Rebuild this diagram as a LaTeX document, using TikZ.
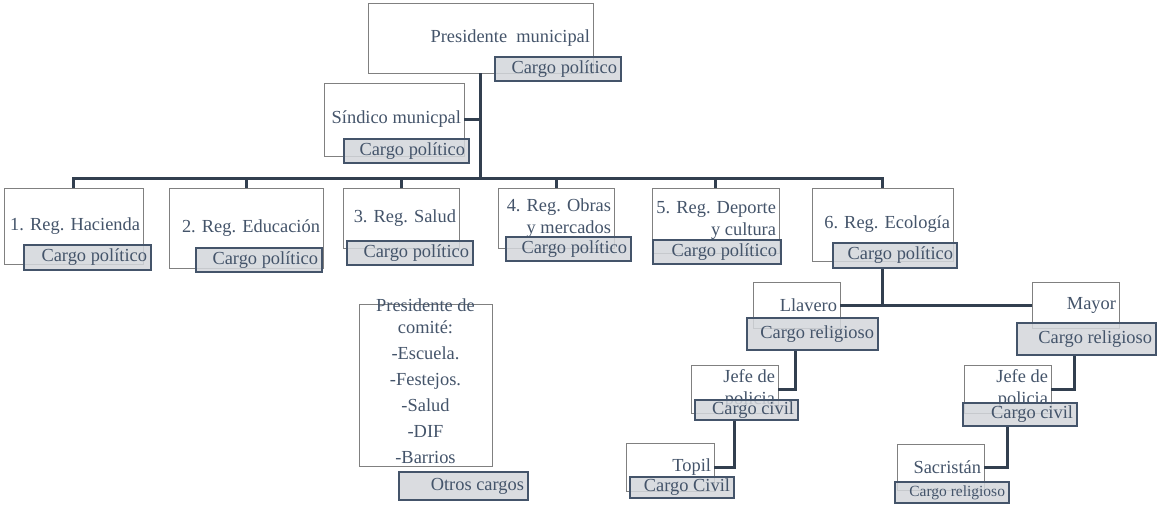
\documentclass[tikz,border=0pt]{standalone}
\usepackage{fontspec}
\setmainfont{Liberation Serif}
\usepackage{tikz}
\usetikzlibrary{positioning}

\definecolor{texto}{HTML}{44546A}
\definecolor{linea}{HTML}{323F4F}
\definecolor{borde}{HTML}{808080}
\definecolor{relleno}{HTML}{D3D6DB}

\tikzset{
  puesto/.style={draw=borde, line width=0.8pt, fill=white, inner xsep=3pt, inner ysep=0pt,
    align=flush right, text=texto, font=\fontsize{18.4}{22}\selectfont},
  cargo/.style={draw=texto, line width=1.4pt, fill=relleno, fill opacity=0.85, text opacity=1,
    inner xsep=4pt, inner ysep=0pt, align=flush right, text=texto, font=\fontsize{18.4}{22}\selectfont},
  enlace/.style={draw=linea, line width=3pt}
}

\begin{document}
\begin{tikzpicture}[x=1pt, y=-1pt]
    \useasboundingbox (0,0) rectangle (1157,504);

    % puestos
    \node[puesto, text width=219, minimum height=70] (pm) at (480.5,38) {Presidente\ \ municipal};
    \node[puesto, text width=134, minimum height=73] (sm) at (394,119.5) {Síndico municpal};
    \node[puesto, text width=133, minimum height=76] (r1) at (73.5,226) {1. Reg. Hacienda};
    \node[puesto, text width=148, minimum height=80] (r2) at (246,228) {2. Reg. Educación};
    \node[puesto, text width=110, minimum height=60] (r3) at (401,218) {3. Reg. Salud};
    \node[puesto, text width=110, minimum height=60] (r4) at (556,218) {4. Reg. Obras\\ y mercados};
    \node[puesto, text width=121, minimum height=65] (r5) at (715.5,220.5) {5. Reg. Deporte\\ y cultura};
    \node[puesto, text width=135, minimum height=73] (r6) at (882.5,224.5) {6. Reg. Ecología};
    \node[puesto, text width=81, minimum height=46] (ll) at (796.5,305) {Llavero};
    \node[puesto, text width=81, minimum height=46] (ma) at (1075.5,305) {Mayor};
    \node[puesto, text width=81, minimum height=48] (jl) at (734.5,389) {Jefe de\\ policia};
    \node[puesto, text width=81, minimum height=48] (jr) at (1007.5,389) {Jefe de\\ policia};
    \node[puesto, text width=82, minimum height=48] (tp) at (670,467) {Topil};
    \node[puesto, text width=81, minimum height=46] (sa) at (940.5,467) {Sacristán};

    % comite
    \node[puesto, minimum width=133, minimum height=162] (cm) at (425.5,385) {};
    \node[anchor=north, inner sep=0pt, align=center, text=texto,
      font=\fontsize{18.4}{26}\selectfont] (cmt) at (425.5,298.5)
      {Presidente de\\[-4pt] comité:\\ -Escuela.\\ -Festejos.\\ -Salud\\ -DIF\\ -Barrios};

    % cargos
    \node[cargo, text width=118, minimum height=24] (pmc) at (558,69) {Cargo político};
    \node[cargo, text width=117, minimum height=24] (smc) at (406.5,151) {Cargo político};
    \node[cargo, text width=119, minimum height=25] (r1c) at (87.5,257.5) {Cargo político};
    \node[cargo, text width=118, minimum height=24] (r2c) at (259,260) {Cargo político};
    \node[cargo, text width=118, minimum height=24] (r3c) at (410,253) {Cargo político};
    \node[cargo, text width=117, minimum height=24] (r4c) at (568.5,249) {Cargo político};
    \node[cargo, text width=120, minimum height=24] (r5c) at (717,252) {Cargo político};
    \node[cargo, text width=116, minimum height=25] (r6c) at (895,255.5) {Cargo político};
    \node[cargo, text width=123, minimum height=32] (llc) at (812.5,334) {Cargo religioso};
    \node[cargo, text width=131, minimum height=32] (mac) at (1086.5,339) {Cargo religioso};
    \node[cargo, text width=95, minimum height=20] (jlc) at (746.5,410) {Cargo civil};
    \node[cargo, text width=106, minimum height=23] (jrc) at (1020,414.5) {Cargo civil};
    \node[cargo, text width=96, minimum height=21] (tpc) at (682,487.5) {Cargo Civil};
    \node[cargo, text width=106, minimum height=21, font=\fontsize{15.5}{18}\selectfont] (sac) at (952,492.5) {Cargo religioso};
    \node[cargo, text width=121, minimum height=28] (oc) at (463.5,486) {Otros cargos};

    % enlaces
    \coordinate (bus) at (480.5,178);
    \draw[enlace] (pm.south) -- (bus);
    \draw[enlace] (sm.east) -- (sm.east -| pm.south);
    \foreach \r in {r1,r2,r3,r4,r5,r6}
      \draw[enlace] (\r.north) |- (bus);
    \draw[enlace] (r6c.south -| r6.north) -- (ll.east -| r6.north);
    \draw[enlace] (ll.east) -- (ma.west);
    \draw[enlace] (jl.east) -| ([xshift=-17.5pt]llc.south);
    \draw[enlace] (tp.east) -| ([xshift=-12.5pt]jlc.south);
    \draw[enlace] (jr.east) -| ([xshift=-12.5pt]mac.south);
    \draw[enlace] (sa.east) -| ([xshift=-13pt]jrc.south);
\end{tikzpicture}
\end{document}
